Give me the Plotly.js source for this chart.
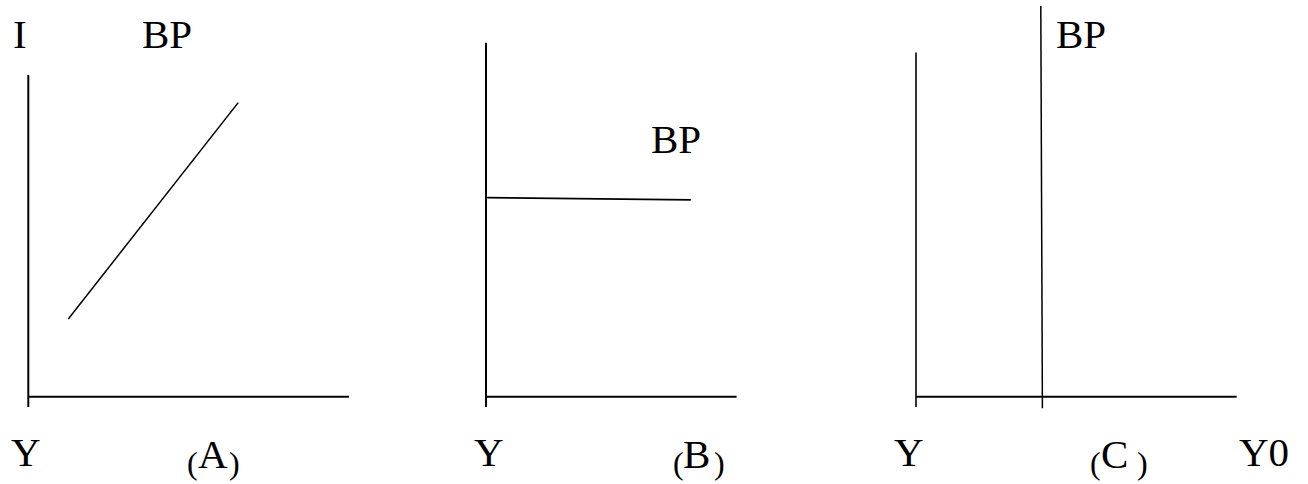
<!DOCTYPE html>
<html>
<head>
<meta charset="utf-8">
<script src="https://cdn.plot.ly/plotly-3.0.1.min.js"></script>
<style>
html,body{margin:0;padding:0;background:#fff;}
#chart{width:1308px;height:484px;}
</style>
</head>
<body>
<div id="chart"></div>
<script>
// ---- Data (arbitrary diagram units; origin at each panel's axis intersection) ----
// Panel A: upward-sloping BP
const panelA_vAxisX = [0, 0];
const panelA_vAxisY = [10.05, -0.32];
const panelA_hAxisX = [0, 10.02];
const panelA_hAxisY = [0, 0];
const panelA_bpX = [1.25, 6.56];
const panelA_bpY = [2.43, 9.19];

// Panel B: horizontal BP
const panelB_vAxisX = [0, 0];
const panelB_vAxisY = [11.06, -0.32];
const panelB_hAxisX = [0, 7.83];
const panelB_hAxisY = [0, 0];
const panelB_bpX = [0, 6.40];
const panelB_bpY = [6.22, 6.15];

// Panel C: vertical BP
const panelC_vAxisX = [0, 0];
const panelC_vAxisY = [10.76, -0.32];
const panelC_hAxisX = [0, 10.02];
const panelC_hAxisY = [0, 0];
const panelC_bpX = [3.90, 3.95];
const panelC_bpY = [12.21, -0.36];

// Labels
const labelText  = ["I", "BP", "Y", "(", "A", ")",
                    "BP", "Y", "(", "B", ")",
                    "BP", "Y", "(", "C", ")", "Y0"];
const labelPanel = ["A", "A", "A", "A", "A", "A",
                    "B", "B", "B", "B", "B",
                    "C", "C", "C", "C", "C", "C"];
const labelX     = [-0.52, 3.53, -0.57, 4.93, 5.26, 6.24,
                    5.12, -0.41, 5.80, 6.13, 7.10,
                    4.35, -0.72, 5.40, 5.75, 6.86, 10.06];
const labelY     = [11.34, 11.34, -1.72, -2.07, -1.79, -2.07,
                    8.06, -1.72, -2.07, -1.79, -2.07,
                    11.34, -1.72, -2.07, -1.79, -2.07, -1.72];
const labelSmall = [false, false, false, true, false, true,
                    false, false, true, false, true,
                    false, false, true, false, true, false];

// ---- Build ----
const axisRef = {A: "x", B: "x2", C: "x3"};
const axisWidth = 2, bpWidth = 1.5;

function seg(x, y, xa, w) {
  return {x: x, y: y, xaxis: xa, yaxis: "y", mode: "lines", type: "scatter",
          line: {color: "#000", width: w}, hoverinfo: "skip", showlegend: false};
}

const traces = [
  seg(panelA_vAxisX, panelA_vAxisY, "x", axisWidth),
  seg(panelA_hAxisX, panelA_hAxisY, "x", axisWidth),
  seg(panelA_bpX, panelA_bpY, "x", bpWidth),
  seg(panelB_vAxisX, panelB_vAxisY, "x2", axisWidth),
  seg(panelB_hAxisX, panelB_hAxisY, "x2", axisWidth),
  seg(panelB_bpX, panelB_bpY, "x2", 1.8),
  seg(panelC_vAxisX, panelC_vAxisY, "x3", 1.6),
  seg(panelC_hAxisX, panelC_hAxisY, "x3", axisWidth),
  seg(panelC_bpX, panelC_bpY, "x3", bpWidth)
];

const serifFamily = "Liberation Serif";
function buildAnnotations() {
  return labelText.map((t, i) => ({
    text: t, x: labelX[i], y: labelY[i],
    xref: axisRef[labelPanel[i]], yref: "y",
    xanchor: "left", yanchor: "middle", showarrow: false, borderpad: 0,
    font: {family: serifFamily, size: labelSmall[i] ? 32 : 41, color: "#000000"}
  }));
}

function hidden(extra) {
  return Object.assign({visible: false, showgrid: false, zeroline: false,
                        showticklabels: false, fixedrange: true}, extra);
}

const layout = {
  width: 1308, height: 484,
  margin: {l: 0, r: 0, t: 0, b: 0, pad: 0},
  paper_bgcolor: "#fff", plot_bgcolor: "#fff",
  showlegend: false,
  font: {family: serifFamily, color: "#000000"},
  xaxis:  hidden({domain: [0, 440/1308], range: [-0.884, 12.866], anchor: "y"}),
  xaxis2: hidden({domain: [440/1308, 880/1308], range: [-1.4375, 12.3125], anchor: "y"}),
  xaxis3: hidden({domain: [880/1308, 1], range: [-1.125, 12.25], anchor: "y"}),
  yaxis:  hidden({domain: [0, 1], range: [-2.728, 12.397]}),
  annotations: buildAnnotations()
};

// warm up the serif face without adding any page text
try {
  const cv = document.createElement("canvas");
  const ctx = cv.getContext("2d");
  ctx.font = '41px "Liberation Serif"';
  ctx.fillText("I BP Y (A) (B) (C) Y0", 0, 40);
} catch (e) {}

const gd = document.getElementById("chart");
Plotly.newPlot(gd, traces, layout, {displayModeBar: false, staticPlot: true}).then(function () {
  setTimeout(function () {
    // redraw labels once the face is available, then nudge a repaint
    Plotly.relayout(gd, {annotations: buildAnnotations()}).then(function () {
      const nudge = document.createElement("div");
      nudge.style.cssText = "position:absolute;left:0;top:0;width:1px;height:1px;background:#fff;";
      document.body.appendChild(nudge);
    });
  }, 150);
});
</script>
</body>
</html>
